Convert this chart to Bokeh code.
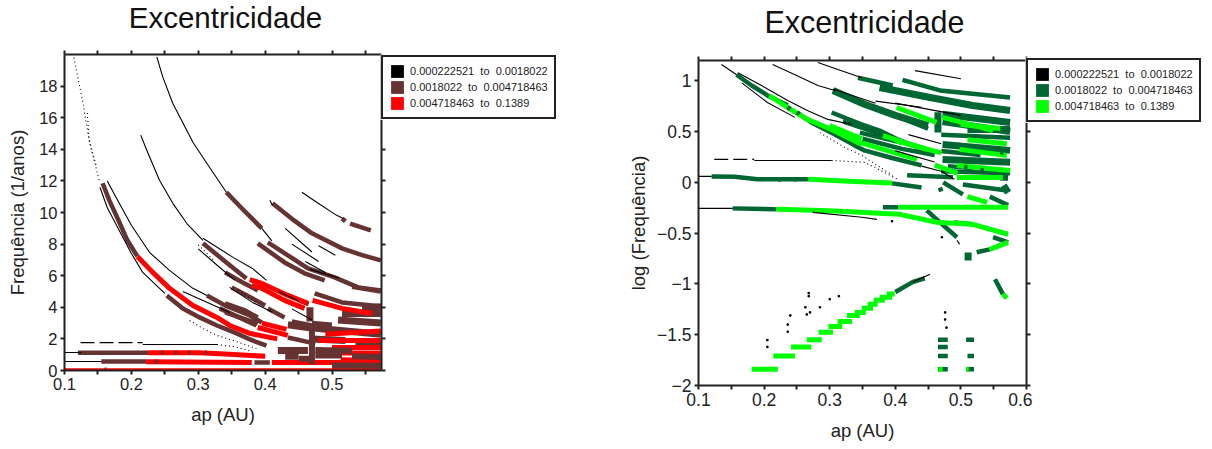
from bokeh.plotting import figure
from bokeh.layouts import row, column
from bokeh.embed import file_html
from bokeh.resources import INLINE
from bokeh.models import LinearAxis, FixedTicker, Label, Legend, LegendItem, ColumnDataSource, Range1d

TITLE = "Excentricidade"
LEGEND_RANGES = ["0.000222521  to  0.0018022", "0.0018022  to  0.004718463", "0.004718463  to  0.1389"]
X_MAJOR = [0.1, 0.2, 0.3, 0.4, 0.5]
X_MINOR = [0.15, 0.25, 0.35, 0.45, 0.55]
LEFT_Y_TICKS = [0, 2, 4, 6, 8, 10, 12, 14, 16, 18]
RIGHT_X_MAJOR = [0.1, 0.2, 0.3, 0.4, 0.5, 0.6]
RIGHT_Y_TICKS = [-2, -1.5, -1, -0.5, 0, 0.5, 1]

# ---------- left panel: frequency ----------
L_BLACK = [
    [(.164,12.0),(.179,10.8),(.2,9.19),(.227,7.48),(.257,6.34),(.292,5.2),(.313,4.75)],
    [(.153,11.6),(.164,10.3),(.2,7.41),(.217,6.21),(.25,4.88)],
    [(.238,19.85),(.247,18.57),(.262,16.9),(.275,15.84),(.292,14.45),(.313,13.1),(.342,11.28)],
    [(.214,14.9),(.223,13.94),(.242,12.04),(.262,10.58),(.283,9.3),(.307,8.24)],
    [(.307,8.37),(.352,7.16),(.381,6.46),(.402,5.7)],
    [(.300,7.7),(.33,6.6),(.355,5.7)],
    [(.347,5.26),(.381,4.31),(.411,3.68)],
    [(.277,5.0),(.347,3.67)],
    [(.1,1.14),(.125,1.14)],
    [(.1,.57),(.155,.57)],
    [(.217,1.65),(.328,1.65)],
    [(.455,11.28),(.477,10.65),(.507,9.82),(.516,9.63)],
    [(.407,10.77),(.411,10.46)],
    [(.395,9.0),(.41,8.2)],
    [(.43,9.0),(.47,7.5)],
    [(.44,8.0),(.48,6.9)],
    [(.48,7.9),(.505,7.3)],
    [(.46,6.9),(.49,6.2)],
    [(.467,6.4),(.51,5.85)],
    [(.42,5.0),(.45,4.4)],
    [(.44,3.9),(.47,3.2)],
]
L_BLACK_DOT = [
    [(.114,19.8),(.120,18.5),(.127,17.1),(.137,14.5),(.145,13.2),(.152,12.0)],
    [(.134,16.3),(.137,14.6),(.147,13.0)],
    [(.287,3.17),(.307,2.66),(.328,2.22),(.352,1.9),(.387,1.39)],
    [(.328,1.65),(.355,1.5),(.38,1.2)],
    [(.3,7.95),(.325,6.9)],
    [(.36,5.1),(.39,4.2)],
]
L_BLACK_DASH = [[(.124,1.76),(.217,1.76)]]
L_BROWN = [
    [(.157,11.85),(.167,10.77),(.182,9.38),(.194,8.24),(.209,7.22)],
    [(.253,4.75),(.277,3.93),(.302,3.36),(.328,2.85),(.354,2.41),(.381,1.9),(.402,1.58)],
    [(.313,4.75),(.34,4.12),(.377,3.49),(.395,3.04)],
    [(.332,3.93),(.387,2.85)],
    [(.342,11.28),(.365,10.27),(.395,9.0)],
    [(.411,10.58),(.44,9.6),(.47,8.68),(.515,7.73),(.545,7.3),(.573,6.97)],
    [(.515,9.63),(.52,9.45)],
    [(.527,9.3),(.558,8.87)],
    [(.404,8.11),(.434,7.29),(.464,6.46),(.504,5.89),(.539,5.26),(.573,5.07)],
    [(.389,8.05),(.429,6.84),(.459,6.15),(.489,5.7)],
    [(.307,8.05),(.342,6.84),(.372,5.83)],
    [(.34,6.21),(.365,5.6),(.389,5.07)],
    [(.35,5.26),(.375,4.7),(.4,4.12)],
    [(.404,3.93),(.429,3.36)],
    [(.474,4.88),(.515,4.31),(.56,4.12),(.573,4.1)],
    [(.34,4.25),(.37,3.8),(.389,3.36)],
    [(.34,3.68),(.389,2.98)],
    [(.434,2.09),(.475,1.7)],
    [(.12,1.12),(.225,1.12)],
    [(.155,.57),(.222,.57)],
    [(.384,.5),(.407,.5)],
    [(.47,3.0),(.5,2.9)],
    [(.53,5.3),(.573,5.0)],
    [(.44,3.1),(.47,2.85)],
    [(.45,4.45),(.465,4.2)],
]
L_BROWN_HEAVY = [
    [(.515,3.6),(.573,3.6)],
    [(.545,4.0),(.573,4.0)],
    [(.509,3.2),(.573,3.0)],
    [(.434,2.9),(.464,2.72),(.573,2.3)],
    [(.419,1.27),(.464,1.27)],
    [(.467,4.0),(.467,3.1)],
    [(.47,2.0),(.52,1.9)],
    [(.535,1.6),(.573,1.6)],
    [(.43,.9),(.45,.9)],
]
L_RED = [
    [(.209,7.22),(.232,6.21),(.257,5.2),(.292,4.12),(.328,3.36),(.347,2.85),(.377,2.35),(.418,2.0)],
    [(.377,5.75),(.395,5.51),(.434,4.75),(.464,4.25)],
    [(.38,5.4),(.395,5.2),(.429,4.44),(.459,3.93)],
    [(.471,4.44),(.515,3.93),(.56,3.61)],
    [(.395,3.0),(.432,2.6)],
    [(.389,2.72),(.434,2.22)],
    [(.225,1.12),(.3,1.12),(.34,1.05),(.4,.9)],
    [(.222,.55),(.38,.5)],
    [(.41,.5),(.573,.5)],
    [(.48,1.9),(.573,1.9)],
    [(.5,1.45),(.573,1.45)],
    [(.51,1.1),(.573,1.1)],
    [(.49,2.3),(.573,2.5)],
]
L_RED_THIN = [
    [(.1,.05),(.573,.05)],
    [(.5,.2),(.573,.2)],
    [(.513,.75),(.573,.7)],
]
L_BROWN_TOP = [
    [(.47,.4),(.47,2.9)],
    [(.475,1.3),(.53,1.25)],
    [(.475,.95),(.515,.95)],
    [(.53,.9),(.573,.85)],
    [(.5,.32),(.573,.3)],
    [(.45,.75),(.47,.75)],
]
L_BROWN_FLECKS = [
    [(.245,1.12),(.248,1.12)], [(.265,1.12),(.268,1.12)], [(.285,1.12),(.288,1.12)],
    [(.235,.55),(.24,.55)], [(.16,.05),(.163,.05)], [(.31,1.12),(.313,1.12)],
]

# ---------- right panel: log frequency ----------
R_BLACK = [
    [(.135,1.16),(.158,1.06)],
    [(.16,1.08),(.196,.954),(.236,.806),(.266,.708),(.297,.62),(.334,.57)],
    [(.166,.98),(.205,.787),(.247,.64)],
    [(.213,1.16),(.247,1.06),(.282,.954),(.308,.905)],
    [(.282,1.18),(.318,1.10),(.349,1.03)],
    [(.185,.216),(.303,.216)],
    [(.1,.059),(.12,.059)],
    [(.1,-.256),(.152,-.256)],
    [(.274,-.295),(.349,-.344),(.372,-.364)],
    [(.494,-.57),(.498,-.61)],
    [(.427,-.98),(.453,-.905)],
    [(.43,1.1),(.5,1.02)],
    [(.37,.8),(.44,.74)],
    [(.4,.78),(.5,.66)],
    [(.44,.16),(.47,.11),(.49,.03)],
    [(.305,.92),(.37,.78)],
    [(.42,.47),(.47,.38)],
    [(.4,.31),(.46,.2)],
]
R_BLACK_DOT = [
    [(.285,.49),(.305,.413),(.323,.344),(.349,.265),(.396,.069)],
    [(.303,.216),(.353,.197),(.404,.03)],
]
R_BLACK_DASH = [[(.124,.226),(.185,.226)]]
R_SCATTER_X = [.205,.205,.236,.236,.24,.263,.265,.268,.268,.27,.285,.3,.314,.476,.476,.478,.395,.471]
R_SCATTER_Y = [-1.553,-1.62,-1.4,-1.47,-1.31,-1.23,-1.3,-1.09,-1.12,-1.28,-1.23,-1.15,-1.12,-1.28,-1.35,-1.43,-.383,-.54]
R_DARK = [
    [(.158,1.06),(.181,.954),(.208,.845),(.236,.76)],
    [(.25,.688),(.272,.59),(.308,.472),(.338,.364),(.353,.315),(.395,.24),(.44,.167)],
    [(.303,.688),(.353,.56),(.376,.51),(.407,.413),(.442,.325)],
    [(.343,1.03),(.396,.954)],
    [(.411,1.01),(.468,.905),(.575,.836)],
    [(.346,.49),(.411,.39)],
    [(.418,.069),(.488,.05)],
    [(.12,.059),(.155,.055),(.19,.03),(.268,.03)],
    [(.395,-.01),(.44,-.05)],
    [(.468,-.05),(.47,-.09)],
    [(.473,.0),(.503,-.118)],
    [(.544,-.14),(.572,-.226)],
    [(.503,-.02),(.57,-.08)],
    [(.381,-.246),(.405,-.246)],
    [(.152,-.256),(.219,-.265)],
    [(.448,-.275),(.468,-.393),(.494,-.54)],
    [(.49,-.395),(.518,-.413)],
    [(.524,-.688),(.544,-.66)],
    [(.549,-.54),(.572,-.59)],
    [(.552,-.954),(.564,-1.10)],
    [(.4,-1.08),(.427,-.98),(.445,-.944)],
    [(.465,-1.55),(.48,-1.55)], [(.465,-1.62),(.48,-1.62)], [(.465,-1.71),(.48,-1.71)],
    [(.465,-1.84),(.48,-1.84)], [(.508,-1.55),(.52,-1.55)], [(.51,-1.71),(.52,-1.71)],
    [(.508,-1.84),(.52,-1.84)],
    [(.395,.67),(.45,.53)],
    [(.35,.43),(.41,.33),(.46,.27)],
    [(.47,.47),(.575,.44)],
    [(.47,.31),(.53,.27)],
    [(.47,.11),(.575,.09)],
    [(.48,.16),(.52,.14)],
    [(.32,.6),(.38,.47),(.43,.36)],
]
R_DARK_HEAVY = [
    [(.305,.905),(.353,.77),(.40,.66),(.45,.56)],
    [(.376,.934),(.453,.836),(.518,.757),(.575,.708)],
    [(.472,.67),(.575,.59)],
    [(.472,.6),(.575,.5)],
    [(.51,.52),(.575,.52)],
    [(.472,.374),(.575,.315)],
    [(.472,.226),(.575,.197)],
    [(.465,.69),(.465,.49)],
    [(.511,-.69),(.511,-.77)],
    [(.56,.05),(.572,.05)],
    [(.565,-.03),(.572,-.1)],
]
R_BRIGHT = [
    [(.208,.855),(.236,.737),(.266,.62),(.303,.52),(.349,.374)],
    [(.402,.737),(.442,.64),(.463,.59)],
    [(.472,.64),(.549,.51)],
    [(.381,.46),(.448,.325)],
    [(.346,.393),(.433,.226)],
    [(.498,.325),(.57,.265)],
    [(.494,.167),(.575,.118)],
    [(.494,.049),(.564,.049)],
    [(.268,.03),(.33,.01),(.395,-.005)],
    [(.405,-.246),(.572,-.246)],
    [(.219,-.265),(.30,-.28),(.407,-.315),(.463,-.393),(.518,-.413),(.572,-.511)],
    [(.544,-.66),(.572,-.59)],
    [(.564,-1.10),(.57,-1.14)],
    [(.51,-.14),(.54,-.197)],
    [(.46,.17),(.495,.09)],
    [(.181,-1.84),(.221,-1.84)], [(.214,-1.71),(.247,-1.71)], [(.241,-1.62),(.272,-1.62)],
    [(.265,-1.55),(.288,-1.55)], [(.283,-1.475),(.305,-1.475)], [(.298,-1.42),(.319,-1.42)],
    [(.312,-1.37),(.334,-1.37)], [(.326,-1.31),(.346,-1.31)], [(.338,-1.28),(.355,-1.28)],
    [(.349,-1.24),(.366,-1.24)], [(.358,-1.20),(.373,-1.20)], [(.367,-1.16),(.384,-1.16)],
    [(.376,-1.13),(.395,-1.13)], [(.387,-1.10),(.399,-1.10)],
    [(.466,-1.84),(.472,-1.84)], [(.508,-1.84),(.512,-1.84)],
    [(.4,.41),(.47,.29)],
    [(.51,.42),(.57,.38)],
    [(.5,.57),(.56,.53)],
    [(.3,.56),(.349,.43)],
]
R_DARK_FLECKS = [
    [(.236,.74),(.24,.72)], [(.25,.69),(.254,.67)], [(.222,.025),(.225,.025)],
    [(.245,.03),(.25,.03)], [(.505,.15),(.51,.15)], [(.53,.12),(.535,.12)], [(.56,.3),(.565,.29)],
]


def draw(p, lines, color, width, dash="solid"):
    src = ColumnDataSource(dict(
        xs=[[pt[0] for pt in ln] for ln in lines],
        ys=[[pt[1] for pt in ln] for ln in lines],
    ))
    p.multi_line("xs", "ys", source=src, line_color=color, line_width=width, line_dash=dash, line_join="round")


def blank(width, height):
    f = figure(output_backend="svg", toolbar_location=None, width=width, height=height,
               x_axis_type=None, y_axis_type=None, min_border=0,
               x_range=Range1d(0, 1), y_range=Range1d(0, 1))
    f.grid.visible = False
    f.outline_line_color = None
    return f


def title_fig(width, height, x, y, size):
    f = blank(width, height)
    f.add_layout(Label(x=x, y=y, x_units="screen", y_units="screen", text=TITLE,
                       text_font="Liberation Sans", text_font_size=size, text_color="#111111",
                       text_align="center", text_baseline="alphabetic"))
    return f


def legend_fig(width, height, colors, top, left_margin):
    f = blank(width, height)
    q = [f.quad(left=[2], right=[3], top=[2], bottom=[3], fill_color=c, line_color=None) for c in colors]
    lg = Legend(items=[LegendItem(label=t, renderers=[r]) for t, r in zip(LEGEND_RANGES, q)],
                location="top_left", orientation="vertical",
                glyph_width=16, glyph_height=16, label_height=14, label_width=10,
                spacing=0, padding=6, margin=1, label_standoff=5,
                label_text_font="Liberation Sans", label_text_font_size="11px",
                label_text_color="#222222",
                border_line_color="#222222", border_line_width=2, border_line_alpha=1,
                background_fill_color="white", background_fill_alpha=1)
    f.add_layout(lg, "center")
    f.margin = (top, 0, 0, left_margin)
    return f


def make_panel(x_end, y_start, y_end, fw, fh, bl, bb, xmaj, xmin, yticks, tsize, lsize, ylabel, ystand):
    p = figure(output_backend="svg", toolbar_location=None,
               frame_width=fw, frame_height=fh,
               min_border_left=bl, min_border_right=6, min_border_top=5, min_border_bottom=bb,
               x_range=Range1d(0.1, x_end), y_range=Range1d(y_start, y_end),
               x_axis_label="ap (AU)", y_axis_label=ylabel)
    p.grid.visible = False
    p.outline_line_color = None
    p.background_fill_color = "white"
    xax, yax = p.below[0], p.left[0]
    xt = FixedTicker(ticks=xmaj, minor_ticks=xmin)
    yt = FixedTicker(ticks=yticks)
    xax.ticker = xt
    yax.ticker = yt
    top = LinearAxis(ticker=xt, major_label_overrides={t: "" for t in xmaj}, major_label_standoff=0, major_label_text_font_size="1px")
    right = LinearAxis(ticker=yt, major_label_overrides={t: "" for t in yticks}, major_label_standoff=0, major_label_text_font_size="1px")
    p.add_layout(top, "above")
    p.add_layout(right, "right")
    for ax in (xax, yax, top, right):
        ax.axis_line_color = "#222222"
        ax.axis_line_width = 2
        ax.major_tick_line_color = "#222222"
        ax.minor_tick_line_color = "#222222"
        ax.major_tick_line_width = 2
        ax.minor_tick_line_width = 2
        ax.major_tick_in = 0
        ax.major_tick_out = 4
        ax.minor_tick_in = 0
        ax.minor_tick_out = 4
    for ax in (xax, yax):
        ax.major_label_text_font = "Liberation Sans"
        ax.major_label_text_color = "#222222"
        ax.major_label_text_font_size = tsize
        ax.major_label_standoff = 3
        ax.axis_label_text_font = "Liberation Sans"
        ax.axis_label_text_font_style = "normal"
        ax.axis_label_text_color = "#222222"
        ax.axis_label_text_font_size = lsize
    xax.axis_label_standoff = 11
    yax.axis_label_standoff = ystand
    return p


left = make_panel(0.574, 0, 20, 317, 316, 57, 60, X_MAJOR, X_MINOR, LEFT_Y_TICKS,
                  "16.5px", "18.5px", "Frequência (1/anos)", 8)
draw(left, L_BROWN, "#663333", 4.5)
draw(left, L_BROWN_HEAVY, "#663333", 7)
draw(left, L_RED, "#ff0000", 5)
draw(left, L_RED_THIN, "#ff0000", 3)
draw(left, L_BROWN_TOP, "#663333", 6)
draw(left, L_BROWN_FLECKS, "#663333", 4.5)
draw(left, L_BLACK, "#000000", 1.1)
draw(left, L_BLACK_DOT, "#000000", 1.1, "1 3")
draw(left, L_BLACK_DASH, "#000000", 1.2, "14 5")

right = make_panel(0.6, -2, 1.2, 328, 325, 99, 55, RIGHT_X_MAJOR, X_MINOR, RIGHT_Y_TICKS,
                   "17.5px", "18.5px", "log (Frequência)", 5)
draw(right, R_DARK, "#006633", 4.5)
draw(right, R_DARK_HEAVY, "#006633", 7)
draw(right, R_BRIGHT, "#00ff00", 5)
draw(right, R_DARK_FLECKS, "#006633", 4.5)
draw(right, R_BLACK, "#000000", 1.1)
draw(right, R_BLACK_DOT, "#000000", 1.1, "1 3")
draw(right, R_BLACK_DASH, "#000000", 1.2, "14 5")
right.scatter(R_SCATTER_X, R_SCATTER_Y, size=1.5, color="#000000", marker="square")

col_left = column(title_fig(380, 55, 161, 32, "29.5px"), left, spacing=0)
col_left.margin = (-6, 0, 0, 4)
col_right = column(title_fig(433, 60, 166, 34, "30.5px"), right, spacing=0)
col_right.margin = (-5, 0, 0, 43)
leg_left = legend_fig(176, 66, ["#000000", "#663333", "#ff0000"], 54, -7)
leg_right = legend_fig(177, 66, ["#000000", "#006633", "#00ff00"], 57, -7)

page = row(col_left, leg_left, col_right, leg_right, spacing=0)
open("out.html", "w").write(file_html(page, INLINE))
